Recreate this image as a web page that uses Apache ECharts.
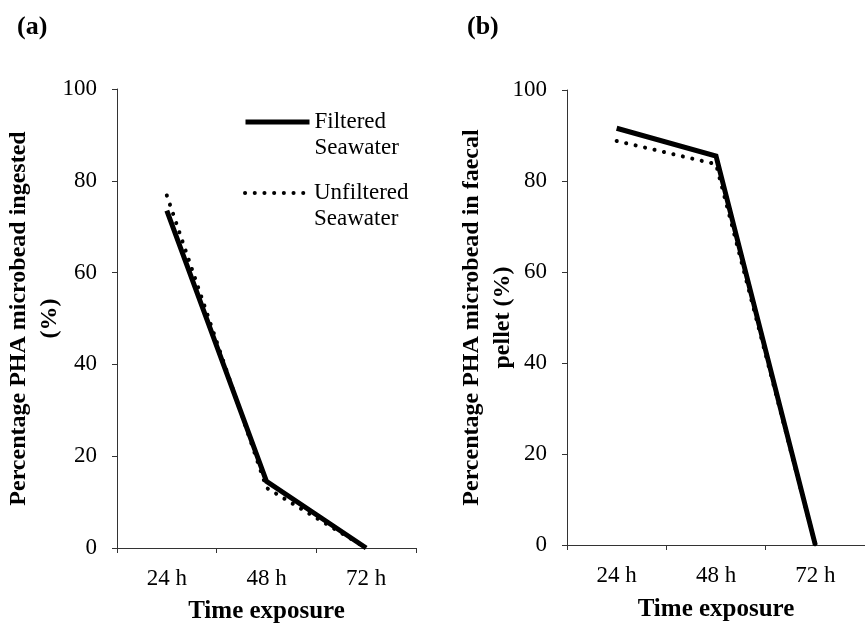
<!DOCTYPE html>
<html>
<head>
<meta charset="utf-8">
<script src="https://cdn.jsdelivr.net/npm/echarts@6/dist/echarts.min.js"></script>
<style>
  html, body { margin: 0; padding: 0; background: #fff; }
  #chart { width: 865px; height: 623px; }
</style>
</head>
<body>
<div id="chart"></div>
<script>
// data
const timeLabels = ['24 h', '48 h', '72 h'];
const ingestedFiltered = [73.5, 14.5, 0];
const ingestedUnfiltered = [76.8, 13.1, 0];
const faecalFiltered = [91.6, 85.5, 0];
const faecalUnfiltered = [88.8, 83.7, 0];
const yTicks = [0, 20, 40, 60, 80, 100];

const serif = 'Liberation Serif';
const axisColor = '#333';

// shared axis styles
function xAxis(gridIndex, labelMargin, nameGap) {
  return {
    type: 'category',
    gridIndex: gridIndex,
    data: timeLabels,
    boundaryGap: true,
    name: 'Time exposure',
    nameLocation: 'middle',
    nameGap: nameGap,
    nameMoveOverlap: false,
    nameTextStyle: { fontFamily: serif, fontWeight: 'bold', fontSize: 25, color: '#000' },
    axisLine: { lineStyle: { color: axisColor, width: 1 } },
    axisTick: { show: true, length: 5, lineStyle: { color: axisColor } },
    axisLabel: { fontFamily: serif, fontSize: 23, color: '#000', margin: labelMargin }
  };
}

function yAxis(gridIndex, name, nameGap) {
  return {
    type: 'value',
    gridIndex: gridIndex,
    min: yTicks[0],
    max: yTicks[yTicks.length - 1],
    interval: yTicks[1] - yTicks[0],
    name: name,
    nameLocation: 'middle',
    nameGap: nameGap,
    nameMoveOverlap: false,
    nameTextStyle: { fontFamily: serif, fontWeight: 'bold', fontSize: 24, lineHeight: 31, color: '#000', align: 'center' },
    axisLine: { show: true, lineStyle: { color: axisColor, width: 1 } },
    axisTick: { show: true, length: 5, lineStyle: { color: axisColor } },
    axisLabel: { fontFamily: serif, fontSize: 23, color: '#000', margin: 20 },
    splitLine: { show: false }
  };
}

const solidStyle = { color: '#000', width: 5, type: 'solid', join: 'miter', cap: 'butt' };
const dotStyle = { color: '#000', width: 4, type: [0.1, 9.6], cap: 'round', join: 'round' };

function lineSeries(name, data, idx, style, z) {
  return {
    type: 'line',
    name: name,
    xAxisIndex: idx,
    yAxisIndex: idx,
    data: data,
    symbol: 'none',
    itemStyle: { color: '#000' },
    lineStyle: style,
    z: z,
    animation: false
  };
}

// legend text gets an empty first line so the line icon sits level with the first word
function legend(name, top, width) {
  return {
    data: [name],
    left: 243,
    top: top,
    padding: 0,
    itemWidth: 64,
    itemHeight: 10,
    selectedMode: false,
    formatter: n => ' \n' + n.replace(' ', '\n'),
    lineStyle: { width: width },
    itemStyle: { opacity: 0 },
    textStyle: { fontFamily: serif, fontSize: 23, lineHeight: 26, color: '#000' }
  };
}

const chart = echarts.init(document.getElementById('chart'));
chart.setOption({
  backgroundColor: '#fff',
  animation: false,
  title: [
    { text: '(a)', left: 12, top: 9, textStyle: { fontFamily: serif, fontWeight: 'bold', fontSize: 26, color: '#000' } },
    { text: '(b)', left: 462, top: 9, textStyle: { fontFamily: serif, fontWeight: 'bold', fontSize: 26, color: '#000' } }
  ],
  legend: [
    legend('Filtered Seawater', 83, 5),
    legend('Unfiltered Seawater', 154, 4)
  ],
  grid: [
    { left: 117, top: 89, width: 299, height: 459, outerBoundsMode: 'none', containLabel: false },
    { left: 567, top: 90, width: 298, height: 455, outerBoundsMode: 'none', containLabel: false }
  ],
  xAxis: [xAxis(0, 19, 51), xAxis(1, 19, 52)],
  yAxis: [
    yAxis(0, 'Percentage PHA microbead ingested\n(%)', 52),
    yAxis(1, 'Percentage PHA microbead in faecal\npellet (%)', 49)
  ],
  series: [
    lineSeries('Unfiltered Seawater', ingestedUnfiltered, 0, dotStyle, 2),
    lineSeries('Filtered Seawater', ingestedFiltered, 0, solidStyle, 3),
    lineSeries('Unfiltered Seawater', faecalUnfiltered, 1, dotStyle, 2),
    lineSeries('Filtered Seawater', faecalFiltered, 1, solidStyle, 3)
  ]
});
</script>
</body>
</html>
